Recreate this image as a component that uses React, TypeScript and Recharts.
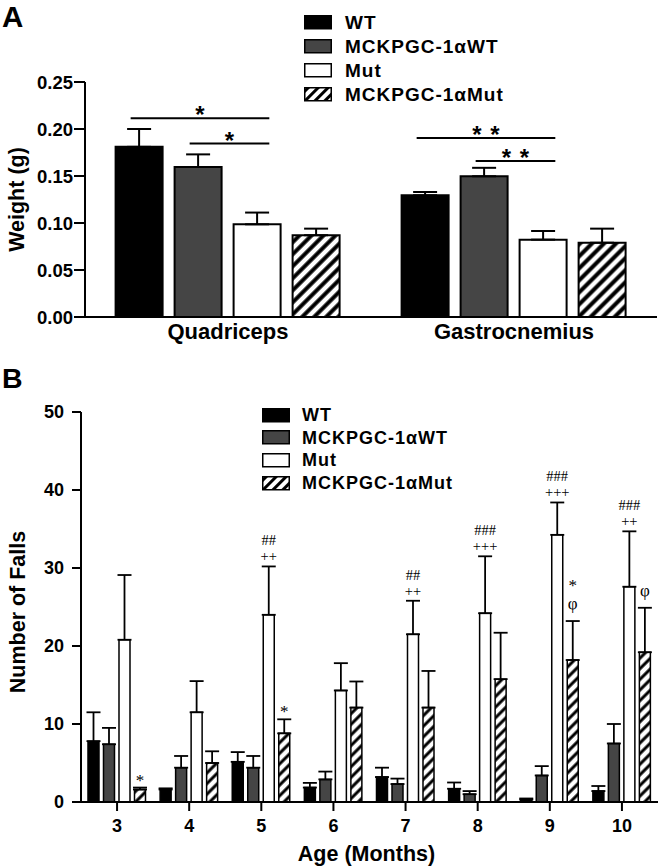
import React from "react";
import { BarChart, Bar, XAxis, YAxis, ErrorBar, LabelList, Legend } from "recharts";

const SANS = "'Liberation Sans', Arial, Helvetica, sans-serif";
const SERIF = "'Liberation Serif', 'Times New Roman', serif";

// ---- panel A: muscle weight (g), mean and upper SEM
const muscles = ["Quadriceps", "Gastrocnemius"];
const weightWT = [0.181, 0.1295];
const weightWTErr = [0.019, 0.0035];
const weightPgcWT = [0.1596, 0.1497];
const weightPgcWTErr = [0.0134, 0.009];
const weightMut = [0.0986, 0.0823];
const weightMutErr = [0.0125, 0.0092];
const weightPgcMut = [0.087, 0.079];
const weightPgcMutErr = [0.007, 0.015];
const weightTicks = [0, 0.05, 0.1, 0.15, 0.2, 0.25];

// significance brackets in A (muscle index, first bar of bracket, height in g, mark)
const bracketMuscle = [0, 0, 1, 1];
const bracketFrom = [0, 1, 0, 1];
const bracketLevel = [0.2115, 0.1845, 0.1904, 0.166];
const bracketMark = ["*", "*", "**", "**"];

// ---- panel B: number of falls by age
const months = ["3", "4", "5", "6", "7", "8", "9", "10"];
const fallsWT = [7.8, 1.6, 5.15, 1.85, 3.2, 1.7, 0.3, 1.4];
const fallsWTErr = [3.7, 0.15, 1.25, 0.6, 1.2, 0.8, 0.15, 0.65];
const fallsPgcWT = [7.4, 4.4, 4.4, 2.9, 2.3, 1.0, 3.4, 7.5];
const fallsPgcWTErr = [2.1, 1.5, 1.5, 1.0, 0.7, 0.4, 1.2, 2.5];
const fallsMut = [20.8, 11.5, 24.0, 14.3, 21.5, 24.2, 34.25, 27.6];
const fallsMutErr = [8.3, 4.0, 6.2, 3.5, 4.3, 7.3, 4.15, 7.1];
const fallsPgcMut = [1.6, 5.0, 8.8, 12.1, 12.1, 15.75, 18.2, 19.2];
const fallsPgcMutErr = [0.25, 1.5, 1.8, 3.35, 4.7, 5.95, 5.0, 5.7];
const fallsTicks = [0, 10, 20, 30, 40, 50];

const mutMarkTop = ["", "", "##", "", "##", "###", "###", "###"];
const mutMarkLow = ["", "", "++", "", "++", "+++", "+++", "++"];
const pgcMutMarkTop = ["", "", "", "", "", "", "*", ""];
const pgcMutMarkLow = ["*", "", "*", "", "", "", "\u03c6", "\u03c6"];

const series = [
  { key: "wt", name: "WT", fill: "#000000" },
  { key: "pgcWT", name: "MCKPGC-1\u03b1WT", fill: "#454545" },
  { key: "mut", name: "Mut", fill: "#ffffff" },
  { key: "pgcMut", name: "MCKPGC-1\u03b1Mut", fill: "hatch" },
];

const weightData = muscles.map((m, i) => ({
  muscle: m,
  wt: weightWT[i],
  wtErr: [0, weightWTErr[i]],
  pgcWT: weightPgcWT[i],
  pgcWTErr: [0, weightPgcWTErr[i]],
  mut: weightMut[i],
  mutErr: [0, weightMutErr[i]],
  pgcMut: weightPgcMut[i],
  pgcMutErr: [0, weightPgcMutErr[i]],
}));

const fallsData = months.map((m, i) => ({
  month: m,
  wt: fallsWT[i],
  wtErr: [0, fallsWTErr[i]],
  pgcWT: fallsPgcWT[i],
  pgcWTErr: [0, fallsPgcWTErr[i]],
  mut: fallsMut[i],
  mutErr: [0, fallsMutErr[i]],
  pgcMut: fallsPgcMut[i],
  pgcMutErr: [0, fallsPgcMutErr[i]],
}));

const GAP_A = 12;
const GAP_B = 4.5;

function HatchDef({ id, size, width }: { id: string; size: number; width: number }) {
  return (
    <pattern id={id} patternUnits="userSpaceOnUse" width={size} height={size} patternTransform="rotate(45)">
      <rect x={0} y={0} width={size} height={size} fill="#fff" />
      <line x1={size / 2} y1={0} x2={size / 2} y2={size} stroke="#000" strokeWidth={width} />
    </pattern>
  );
}

function LegendBox({ fontSize, rowH, gap, id }: { fontSize: number; rowH: number; gap: number; id: string }) {
  return (
    <div style={{ fontFamily: SANS, fontWeight: 700, fontSize, color: "#000", letterSpacing: 1 }}>
      {series.map((s) => (
        <div key={s.key} style={{ display: "flex", alignItems: "center", height: rowH }}>
          <svg width={28} height={15} style={{ display: "block" }}>
            <defs>
              <HatchDef id={id} size={7} width={3} />
            </defs>
            <rect
              x={0.75}
              y={0.75}
              width={26.5}
              height={13}
              fill={s.fill === "hatch" ? `url(#${id})` : s.fill}
              stroke="#000"
              strokeWidth={1.5}
            />
          </svg>
          <span style={{ marginLeft: gap, lineHeight: 1, whiteSpace: "nowrap" }}>{s.name}</span>
        </div>
      ))}
    </div>
  );
}

function renderBrackets(props: any) {
  const box = props.viewBox ?? props;
  const { x, y, width, height } = box;
  const i = props.index;
  const perUnit = height / weightMut[i];
  const base = y + height;
  const pitch = width + GAP_A;
  return (
    <g>
      {bracketLevel.map((lvl, b) => {
        if (bracketMuscle[b] !== i) return null;
        const x1 = x - (2 - bracketFrom[b]) * pitch + width * 0.32;
        const x2 = x + width * 0.76;
        const yy = base - lvl * perUnit;
        const chars = bracketMark[b].split("");
        const cx = (x1 + x2) / 2;
        return (
          <g key={b}>
            <line x1={x1} x2={x2} y1={yy} y2={yy} stroke="#000" strokeWidth={2} />
            {chars.map((ch, k) => (
              <text
                key={k}
                x={cx + (k - (chars.length - 1) / 2) * 18}
                y={yy + 5}
                textAnchor="middle"
                fontFamily={SANS}
                fontWeight={700}
                fontSize={24}
                fill="#000"
              >
                {ch}
              </text>
            ))}
          </g>
        );
      })}
    </g>
  );
}

function markRenderer(top: string[], low: string[], values: number[], errs: number[]) {
  return (props: any) => {
    const box = props.viewBox ?? props;
    const { x, y, width, height } = box;
    const i = props.index;
    if (!top[i] && !low[i]) return null;
    const perUnit = height / values[i];
    const cap = y + height - (values[i] + errs[i]) * perUnit;
    const lowBase = cap - (low[i] === "*" ? 2 : low[i] === "\u03c6" ? 12 : 5);
    const topBase = lowBase - (low[i] === "\u03c6" ? 18 : 16);
    const cx = x + width / 2;
    const size = (s: string) => (s === "*" || s === "\u03c6" ? 17 : 14.5);
    return (
      <g>
        {low[i] && (
          <text x={cx} y={lowBase} textAnchor="middle" fontFamily={SERIF} fontSize={size(low[i])} fill="#000">
            {low[i]}
          </text>
        )}
        {top[i] && (
          <text x={cx} y={topBase} textAnchor="middle" fontFamily={SERIF} fontSize={size(top[i])} fill="#000">
            {top[i]}
          </text>
        )}
      </g>
    );
  };
}

function verticalTitle(text: string, cx: number, shift: number) {
  return (props: any) => {
    const vb = props.viewBox ?? { y: 0, height: 0 };
    const cy = vb.y + vb.height / 2 + shift;
    return (
      <text
        x={cx}
        y={cy}
        transform={`rotate(-90 ${cx} ${cy})`}
        textAnchor="middle"
        dominantBaseline="central"
        fontFamily={SANS}
        fontWeight={700}
        fontSize={21.5}
        fill="#000"
      >
        {text}
      </text>
    );
  };
}

function ageTitle(props: any) {
  const vb = props.viewBox ?? { x: 0, y: 0, width: 0, height: 0 };
  return (
    <text
      x={vb.x + vb.width / 2 - 3}
      y={vb.y + vb.height - 14}
      textAnchor="middle"
      dominantBaseline="central"
      fontFamily={SANS}
      fontWeight={700}
      fontSize={21.5}
      fill="#000"
    >
      Age (Months)
    </text>
  );
}

const axisLine = { stroke: "#000", strokeWidth: 2 };

export default function App() {
  return (
    <div style={{ position: "absolute", left: 0, top: 0, width: 668, height: 868, background: "#fff", overflow: "hidden" }}>
      <div style={{ position: "absolute", left: 0, top: 0 }}>
        <BarChart
          width={668}
          height={345}
          data={weightData}
          margin={{ top: 82, right: 11, bottom: 0, left: 0 }}
          barCategoryGap="10.7%"
          barGap={GAP_A}
        >
          <defs>
            <HatchDef id="hatchA" size={8.5} width={4} />
          </defs>
          <XAxis
            dataKey="muscle"
            height={28}
            tickLine={false}
            tickSize={4}
            tickMargin={2}
            axisLine={axisLine}
            tick={{ fontFamily: SANS, fontWeight: 700, fontSize: 22, fill: "#000" }}
          />
          <YAxis
            width={85}
            domain={[0, 0.25]}
            ticks={weightTicks}
            interval={0}
            tickFormatter={(v: number) => v.toFixed(2)}
            tickSize={11}
            tickMargin={1}
            axisLine={axisLine}
            tickLine={{ stroke: "#000", strokeWidth: 2 }}
            tick={{ fontFamily: SANS, fontWeight: 700, fontSize: 18.5, fill: "#000" }}
            label={verticalTitle("Weight (g)", 17, 0)}
          />
          <Legend
            layout="vertical"
            align="center"
            verticalAlign="middle"
            wrapperStyle={{ left: 304, top: 10.7, width: 300, height: "auto" }}
            content={() => <LegendBox fontSize={19} rowH={24} gap={13} id="legHatchA" />}
          />
          {series.map((s) => (
            <Bar
              key={s.key}
              dataKey={s.key}
              name={s.name}
              fill={s.fill === "hatch" ? "url(#hatchA)" : s.fill}
              stroke="#000"
              strokeWidth={2}
              isAnimationActive={false}
            >
              <ErrorBar dataKey={`${s.key}Err`} width={12} stroke="#000" strokeWidth={2} />
              {s.key === "mut" && <LabelList dataKey="mut" content={renderBrackets} />}
            </Bar>
          ))}
        </BarChart>
      </div>

      <div style={{ position: "absolute", left: 0, top: 370 }}>
        <BarChart
          width={668}
          height={498}
          data={fallsData}
          margin={{ top: 42, right: 10, bottom: 0, left: 0 }}
          barCategoryGap="9.7%"
          barGap={GAP_B}
        >
          <defs>
            <HatchDef id="hatchB" size={7.5} width={3} />
          </defs>
          <XAxis
            dataKey="month"
            height={66}
            tickSize={9}
            tickMargin={8}
            axisLine={axisLine}
            tickLine={{ stroke: "#000", strokeWidth: 2 }}
            tick={{ fontFamily: SANS, fontWeight: 700, fontSize: 18, fill: "#000" }}
            label={ageTitle}
          />
          <YAxis
            width={81}
            domain={[0, 50]}
            ticks={fallsTicks}
            interval={0}
            tickSize={9}
            tickMargin={8}
            axisLine={axisLine}
            tickLine={{ stroke: "#000", strokeWidth: 2 }}
            tick={{ fontFamily: SANS, fontWeight: 700, fontSize: 18, fill: "#000" }}
            label={verticalTitle("Number of Falls", 18, 5)}
          />
          <Legend
            layout="vertical"
            align="center"
            verticalAlign="middle"
            wrapperStyle={{ left: 262, top: 33.7, width: 280, height: "auto" }}
            content={() => <LegendBox fontSize={18} rowH={22.7} gap={12} id="legHatchB" />}
          />
          {series.map((s) => (
            <Bar
              key={s.key}
              dataKey={s.key}
              name={s.name}
              fill={s.fill === "hatch" ? "url(#hatchB)" : s.fill}
              stroke="#000"
              strokeWidth={1.5}
              isAnimationActive={false}
            >
              <ErrorBar dataKey={`${s.key}Err`} width={7} stroke="#000" strokeWidth={1.8} />
              {s.key === "mut" && (
                <LabelList dataKey="mut" content={markRenderer(mutMarkTop, mutMarkLow, fallsMut, fallsMutErr)} />
              )}
              {s.key === "pgcMut" && (
                <LabelList
                  dataKey="pgcMut"
                  content={markRenderer(pgcMutMarkTop, pgcMutMarkLow, fallsPgcMut, fallsPgcMutErr)}
                />
              )}
            </Bar>
          ))}
        </BarChart>
      </div>

      <svg width={668} height={868} style={{ position: "absolute", left: 0, top: 0, pointerEvents: "none" }}>
        <text x={2} y={27} fontFamily={SANS} fontWeight={700} fontSize={29.5} fill="#000">
          A
        </text>
        <text x={2} y={388} fontFamily={SANS} fontWeight={700} fontSize={28.5} fill="#000">
          B
        </text>
      </svg>
    </div>
  );
}
